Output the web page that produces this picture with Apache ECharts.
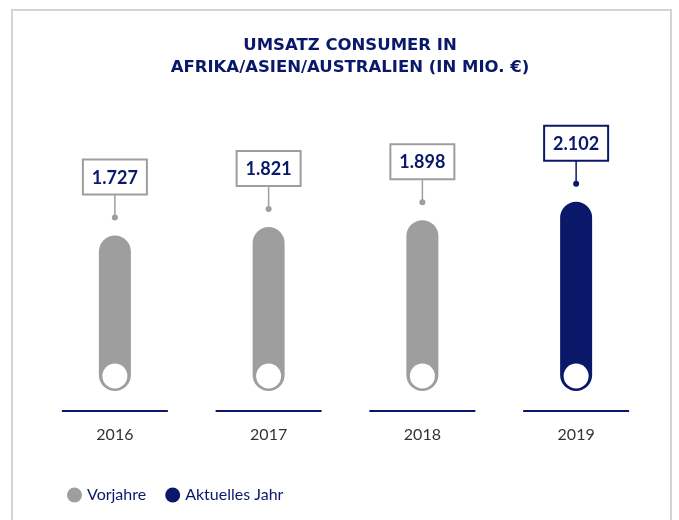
<!DOCTYPE html>
<html>
<head>
<meta charset="utf-8">
<script src="https://cdn.jsdelivr.net/npm/echarts@6/dist/echarts.min.js"></script>
<style>
  html, body { margin: 0; padding: 0; background: #fff; }
  #chart { width: 679px; height: 520px; }
</style>
</head>
<body>
<div id="chart"></div>
<script>
const years = ['2016', '2017', '2018', '2019']
const values = [1727, 1821, 1898, 2102]
const currentIndex = 3
const seriesNames = ['Vorjahre', 'Aktuelles Jahr']

const GRAY = '#9e9e9e'
const NAVY = '#0a1869'

// 1727 -> "1.727"
function fmt(v) {
  return String(v).replace(/\B(?=(\d{3})+(?!\d))/g, '.')
}

function renderPill(color) {
  return function (params, api) {
    const idx = api.value(0)
    const top = api.coord([idx, api.value(1)])
    const base = api.coord([idx, 0])
    const cx = top[0]
    const w = 32
    const boxW = 64, boxH = 35
    const boxBottom = top[1] - 41
    const dotY = top[1] - 18
    return {
      type: 'group',
      children: [
        { type: 'rect', shape: { x: cx - w / 2, y: top[1], width: w, height: base[1] - top[1], r: w / 2 }, style: { fill: color } },
        { type: 'circle', shape: { cx: cx, cy: base[1] - 15, r: 12.5 }, style: { fill: '#fff' } },
        { type: 'line', shape: { x1: cx - 53, y1: base[1] + 20, x2: cx + 53, y2: base[1] + 20 }, style: { stroke: NAVY, lineWidth: 2 } },
        { type: 'line', shape: { x1: cx, y1: boxBottom, x2: cx, y2: dotY }, style: { stroke: color, lineWidth: 1.5 } },
        { type: 'circle', shape: { cx: cx, cy: dotY, r: 3 }, style: { fill: color } },
        { type: 'rect', shape: { x: cx - boxW / 2, y: boxBottom - boxH, width: boxW, height: boxH }, style: { fill: '#fff', stroke: color, lineWidth: 2 } },
        { type: 'text', style: { x: cx, y: boxBottom - boxH / 2 + 1, text: fmt(api.value(1)), fill: NAVY, font: 'bold 18px Lato', align: 'center', verticalAlign: 'middle' } }
      ]
    }
  }
}

const prevData = values.map((v, i) => [i, v]).filter(d => d[0] !== currentIndex)
const currData = values.map((v, i) => [i, v]).filter(d => d[0] === currentIndex)

const chart = echarts.init(document.getElementById('chart'))
chart.setOption({
  animation: false,
  title: {
    text: 'UMSATZ CONSUMER IN\nAFRIKA/ASIEN/AUSTRALIEN (IN MIO. €)',
    left: 345,
    textAlign: 'center',
    top: 30,
    textStyle: { color: NAVY, fontFamily: 'DejaVu Sans', fontWeight: 'bold', fontSize: 16.5, lineHeight: 22 }
  },
  graphic: [
    { type: 'rect', shape: { x: 12, y: 10, width: 659, height: 530 }, style: { fill: 'none', stroke: '#d4d4d4', lineWidth: 2 }, z: -1 }
  ],
  legend: {
    left: 62,
    top: 482,
    icon: 'circle',
    itemWidth: 15,
    itemHeight: 15,
    itemGap: 19,
    textStyle: { color: NAVY, fontFamily: 'Lato', fontSize: 16 },
    data: [
      { name: seriesNames[0], itemStyle: { color: GRAY } },
      { name: seriesNames[1], itemStyle: { color: NAVY } }
    ]
  },
  grid: { left: 38, right: 26, top: 166, bottom: 129 },
  xAxis: {
    type: 'category',
    data: years,
    axisLine: { show: false },
    axisTick: { show: false },
    axisLabel: { margin: 36, color: '#333', fontFamily: 'Lato', fontSize: 16 }
  },
  yAxis: {
    type: 'value',
    min: 0,
    max: 2500,
    show: false,
    splitLine: { show: false }
  },
  series: [
    { name: seriesNames[0], type: 'custom', renderItem: renderPill(GRAY), itemStyle: { color: GRAY }, data: prevData },
    { name: seriesNames[1], type: 'custom', renderItem: renderPill(NAVY), itemStyle: { color: NAVY }, data: currData }
  ]
})
</script>
</body>
</html>
